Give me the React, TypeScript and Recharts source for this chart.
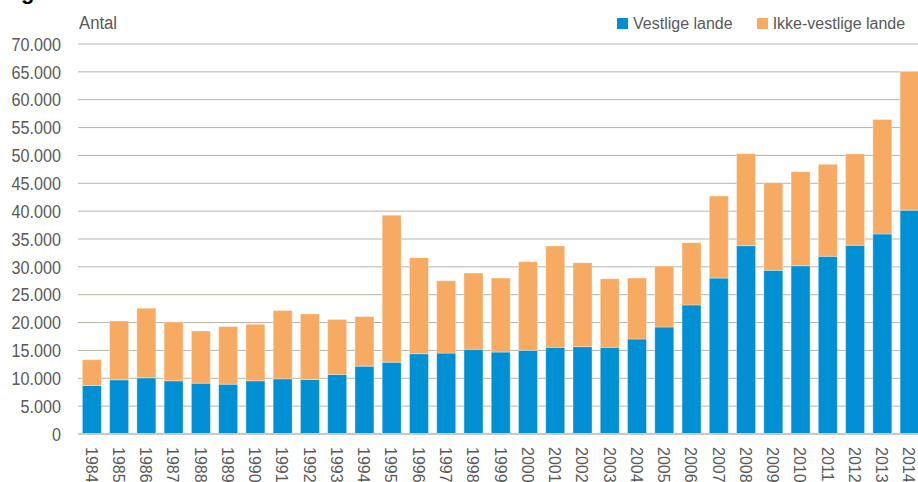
import { BarChart, Bar, XAxis, YAxis, CartesianGrid, Legend, Label } from 'recharts'

const years = [
  '1984', '1985', '1986', '1987', '1988', '1989', '1990', '1991', '1992', '1993', '1994',
  '1995', '1996', '1997', '1998', '1999', '2000', '2001', '2002', '2003', '2004', '2005',
  '2006', '2007', '2008', '2009', '2010', '2011', '2012', '2013', '2014',
]
const vestlige = [
  8700, 9730, 10090, 9550, 9120, 8940, 9550, 9910, 9780, 10690, 12180,
  12900, 14410, 14520, 15190, 14700, 15010, 15550, 15680, 15550, 17050, 19210,
  23170, 27980, 33800, 29370, 30200, 31890, 33870, 35910, 40180,
]
const ikkeVestlige = [
  4630, 10560, 12490, 10560, 9370, 10340, 10150, 12250, 11770, 9850, 8900,
  26380, 17230, 12980, 13690, 13280, 15910, 18200, 15060, 12310, 10930, 10930,
  11170, 14720, 16520, 15730, 16880, 16510, 16400, 20540, 24860,
]
const yTicks = [0, 5000, 10000, 15000, 20000, 25000, 30000, 35000, 40000, 45000, 50000, 55000, 60000, 65000, 70000]
const seriesOrder = ['Vestlige lande', 'Ikke-vestlige lande']

const BLUE = '#0090d3'
const ORANGE = '#f6aa62'
const TEXT = '#595959'
const FONT = '"Liberation Sans", Arial, sans-serif'

const data = years.map((y, i) => ({ year: y, vestlige: vestlige[i], ikke: ikkeVestlige[i] }))

const fmt = (v: number) => v.toLocaleString('en-US').replace(/,/g, '.')

const YTick = ({ x, y, payload }: any) => (
  <text
    transform={`translate(${x},${y}) scale(0.85,1)`}
    dy="0.355em"
    textAnchor="end"
    fill={TEXT}
    fontSize={19}
    fontFamily={FONT}
  >
    {fmt(payload.value)}
  </text>
)

const XTick = ({ x, y, payload }: any) => (
  <text
    transform={`translate(${x - 6},${y + 13}) rotate(90)`}
    textAnchor="start"
    fill={TEXT}
    fontSize={16}
    fontFamily={FONT}
  >
    {payload.value}
  </text>
)

const AxisTitle = ({ viewBox }: any) => (
  <g>
    <text x={21} y={-1} fontSize={22} fontWeight="bold" fontFamily={FONT} fill="#000">
      g
    </text>
    <text
      transform={`translate(${viewBox.x + viewBox.width + 1},${viewBox.y - 15}) scale(0.88,1)`}
      fill={TEXT}
      fontSize={19}
      fontFamily={FONT}
    >
      Antal
    </text>
  </g>
)

const LegendContent = ({ payload }: any) => {
  const items = [...(payload || [])].sort((a: any, b: any) => seriesOrder.indexOf(a.value) - seriesOrder.indexOf(b.value))
  return (
    <div style={{ display: 'flex', fontFamily: FONT, fontSize: 16, lineHeight: '20px', color: TEXT }}>
      {items.map((p: any, i: number) => (
        <div key={p.value} style={{ display: 'flex', alignItems: 'center', marginLeft: i === 0 ? 0 : 24 }}>
          <span style={{ width: 11, height: 11, background: p.color, marginRight: 5, marginTop: -2 }} />
          <span>{p.value}</span>
        </div>
      ))}
    </div>
  )
}

export default function App() {
  return (
    <div style={{ position: 'absolute', left: 0, top: 0, width: 918, height: 482, overflow: 'hidden', background: '#fff' }}>
      <BarChart
        width={923}
        height={482}
        data={data}
        margin={{ top: 44, right: 0, left: 0, bottom: 0 }}
        barCategoryGap="16%"
      >
        <CartesianGrid vertical={false} stroke="#b6b4a8" strokeWidth={1} />
        <XAxis
          dataKey="year"
          height={48}
          interval={0}
          tickSize={0}
          tickMargin={0}
          tick={<XTick />}
          axisLine={{ stroke: '#c9c9c9', strokeWidth: 2 }}
          tickLine={false}
        />
        <YAxis
          width={78}
          domain={[0, 70000]}
          ticks={yTicks}
          interval={0}
          tickSize={0}
          tickMargin={17}
          tick={<YTick />}
          axisLine={false}
          tickLine={false}
        >
          <Label content={<AxisTitle />} />
        </YAxis>
        <Legend
          verticalAlign="middle"
          align="center"
          layout="horizontal"
          content={<LegendContent />}
          wrapperStyle={{ top: 14, left: 617, width: 'auto' }}
        />
        <Bar
          dataKey="vestlige"
          name="Vestlige lande"
          stackId="a"
          fill={BLUE}
          stroke="#ffffff"
          strokeOpacity={0.35}
          strokeWidth={1}
          isAnimationActive={false}
        />
        <Bar
          dataKey="ikke"
          name="Ikke-vestlige lande"
          stackId="a"
          fill={ORANGE}
          stroke="#ffffff"
          strokeOpacity={0.35}
          strokeWidth={1}
          isAnimationActive={false}
        />
      </BarChart>
    </div>
  )
}
